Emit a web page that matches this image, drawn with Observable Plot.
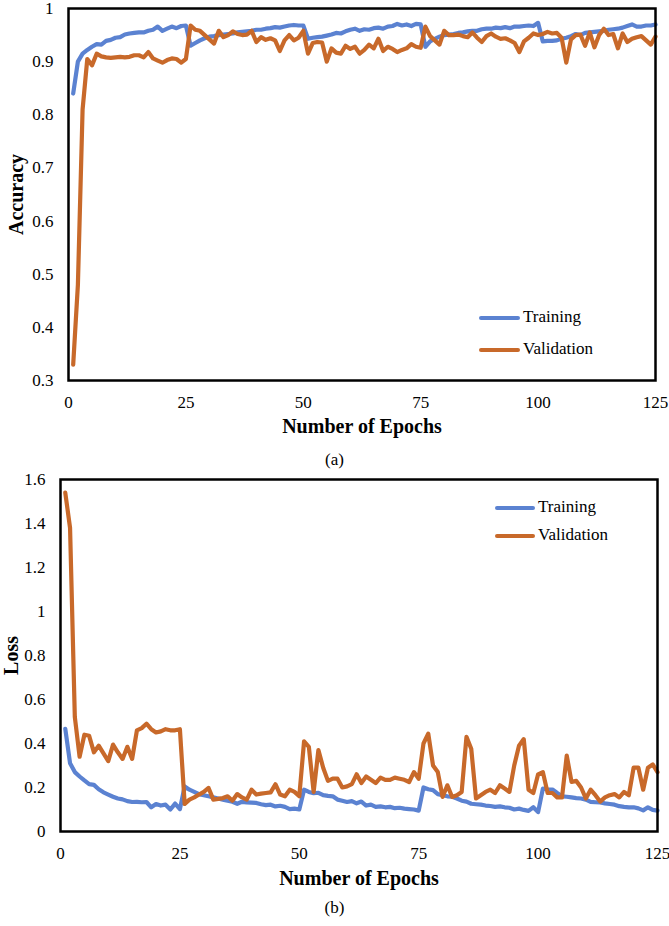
<!DOCTYPE html>
<html>
<head>
<meta charset="utf-8">
<script src="https://cdn.jsdelivr.net/npm/d3@7"></script>
<script src="https://cdn.jsdelivr.net/npm/@observablehq/plot@0.6"></script>
<style>
  html, body { margin: 0; padding: 0; background: #fff; }
  #wrap { position: relative; width: 669px; height: 926px; font-family: "Liberation Serif", "Times New Roman", serif; color: #000; overflow: hidden; }
  #wrap svg, #wrap svg text { font-family: "Liberation Serif", "Times New Roman", serif !important; }
  .cap { position: absolute; left: 0; width: 669px; text-align: center; font-size: 17px; line-height: 20px; }
  .leg { position: absolute; font-size: 17px; line-height: 20px; white-space: nowrap; }
  .legline { position: absolute; height: 4px; border-radius: 2px; }
</style>
</head>
<body>
<div id="wrap"></div>
<script>
// ---- data ----
const xTicks = [0, 25, 50, 75, 100, 125];
const accTicks = [0.3, 0.4, 0.5, 0.6, 0.7, 0.8, 0.9, 1];
const lossTicks = [0, 0.2, 0.4, 0.6, 0.8, 1, 1.2, 1.4, 1.6];
const seriesNames = ["Training", "Validation"];
const seriesColors = ["#5b82d1", "#c8692a"];

const trainAcc = [
  0.84, 0.90, 0.915, 0.922, 0.928, 0.933, 0.932, 0.939, 0.941, 0.945,
  0.946, 0.951, 0.953, 0.954, 0.955, 0.955, 0.958, 0.960, 0.966, 0.958,
  0.962, 0.966, 0.963, 0.967, 0.968, 0.930, 0.935, 0.940, 0.944, 0.947,
  0.948, 0.950, 0.951, 0.952, 0.953, 0.955, 0.956, 0.957, 0.958, 0.960,
  0.960, 0.962, 0.963, 0.965, 0.964, 0.966, 0.968, 0.969, 0.968, 0.968,
  0.943, 0.945, 0.946, 0.947, 0.949, 0.951, 0.954, 0.953, 0.957, 0.960,
  0.962, 0.958, 0.961, 0.960, 0.963, 0.964, 0.962, 0.966, 0.967, 0.971,
  0.968, 0.970, 0.967, 0.971, 0.970, 0.928, 0.938, 0.943, 0.947, 0.950,
  0.951, 0.952, 0.954, 0.955, 0.957, 0.958, 0.958, 0.961, 0.962, 0.962,
  0.964, 0.963, 0.965, 0.963, 0.966, 0.966, 0.967, 0.968, 0.967, 0.973,
  0.938, 0.939, 0.939, 0.940, 0.943, 0.945, 0.948, 0.952, 0.950, 0.954,
  0.955, 0.956, 0.957, 0.958, 0.960, 0.961, 0.962, 0.964, 0.967, 0.970,
  0.966, 0.966, 0.968, 0.968, 0.970
];
const valAcc = [
  0.33, 0.48, 0.81, 0.905, 0.893, 0.915, 0.910, 0.908, 0.907, 0.908,
  0.909, 0.908, 0.909, 0.912, 0.912, 0.908, 0.918, 0.906, 0.902, 0.898,
  0.903, 0.906, 0.905, 0.898, 0.905, 0.968, 0.960, 0.958, 0.950, 0.942,
  0.934, 0.958, 0.946, 0.950, 0.957, 0.952, 0.950, 0.951, 0.958, 0.937,
  0.946, 0.941, 0.944, 0.940, 0.920, 0.940, 0.950, 0.940, 0.945, 0.958,
  0.915, 0.935, 0.937, 0.936, 0.900, 0.925, 0.917, 0.915, 0.930, 0.924,
  0.928, 0.915, 0.922, 0.932, 0.925, 0.943, 0.920, 0.928, 0.924, 0.918,
  0.922, 0.925, 0.933, 0.928, 0.926, 0.966, 0.948, 0.940, 0.932, 0.958,
  0.950, 0.950, 0.951, 0.948, 0.946, 0.955, 0.945, 0.937, 0.948, 0.953,
  0.947, 0.943, 0.944, 0.940, 0.935, 0.918, 0.938, 0.945, 0.953, 0.950,
  0.952, 0.956, 0.953, 0.954, 0.945, 0.898, 0.942, 0.950, 0.951, 0.930,
  0.955, 0.927, 0.950, 0.962, 0.950, 0.952, 0.925, 0.953, 0.937, 0.943,
  0.946, 0.948, 0.940, 0.932, 0.947
];
const trainLoss = [
  0.467, 0.310, 0.270, 0.250, 0.232, 0.215, 0.212, 0.192, 0.178, 0.168,
  0.158, 0.150, 0.146, 0.138, 0.134, 0.135, 0.133, 0.134, 0.110, 0.125,
  0.118, 0.122, 0.100, 0.127, 0.102, 0.205, 0.190, 0.180, 0.170, 0.165,
  0.160, 0.155, 0.150, 0.145, 0.140, 0.135, 0.126, 0.135, 0.132, 0.131,
  0.130, 0.124, 0.120, 0.122, 0.114, 0.117, 0.112, 0.102, 0.104, 0.100,
  0.190, 0.180, 0.174, 0.176, 0.165, 0.162, 0.160, 0.145, 0.140, 0.134,
  0.138, 0.128, 0.136, 0.118, 0.122, 0.112, 0.114, 0.110, 0.112, 0.106,
  0.108, 0.104, 0.102, 0.100, 0.095, 0.200, 0.192, 0.188, 0.170, 0.165,
  0.160, 0.158, 0.150, 0.140, 0.136, 0.126, 0.124, 0.122, 0.118, 0.116,
  0.112, 0.114, 0.110, 0.108, 0.100, 0.104, 0.098, 0.094, 0.110, 0.088,
  0.195, 0.192, 0.191, 0.175, 0.160, 0.158, 0.155, 0.152, 0.150, 0.145,
  0.135, 0.133, 0.132, 0.128, 0.125, 0.122, 0.115, 0.112, 0.110, 0.110,
  0.105, 0.096, 0.110, 0.098, 0.095
];
const valLoss = [
  1.54, 1.38, 0.52, 0.34, 0.44, 0.435, 0.36, 0.39, 0.355, 0.32,
  0.395, 0.36, 0.33, 0.385, 0.33, 0.46, 0.47, 0.49, 0.465, 0.45,
  0.455, 0.465, 0.46, 0.46, 0.465, 0.125, 0.145, 0.155, 0.168, 0.18,
  0.198, 0.145, 0.148, 0.152, 0.16, 0.14, 0.17, 0.155, 0.145, 0.19,
  0.168, 0.172, 0.175, 0.178, 0.215, 0.168, 0.16, 0.19, 0.18, 0.16,
  0.41, 0.385, 0.18, 0.37, 0.29, 0.23, 0.24, 0.24, 0.20, 0.205,
  0.215, 0.26, 0.22, 0.25, 0.235, 0.22, 0.245, 0.235, 0.235, 0.245,
  0.24, 0.235, 0.225, 0.27, 0.24, 0.40, 0.445, 0.30, 0.27, 0.157,
  0.21, 0.157, 0.165, 0.18, 0.43, 0.376, 0.15, 0.165, 0.18, 0.19,
  0.175, 0.21, 0.195, 0.18, 0.30, 0.39, 0.42, 0.19, 0.175, 0.26,
  0.27, 0.175, 0.175, 0.155, 0.155, 0.345, 0.225, 0.23, 0.20, 0.15,
  0.19, 0.165, 0.136, 0.155, 0.165, 0.17, 0.155, 0.18, 0.165, 0.29,
  0.29, 0.19, 0.29, 0.305, 0.27
];

// ---- helpers ----
const fmt = d => String(+(+d).toFixed(1));
const wrap = document.getElementById("wrap");
const FONT = '"Liberation Serif", "Times New Roman", serif';

function makeChart({train, val, yDomain, yTicks, yLabel, width, height, mt, mb, ml, mr, titleDy, ylabDx}) {
  return Plot.plot({
    width, height,
    marginTop: mt, marginBottom: mb, marginLeft: ml, marginRight: mr,
    style: {fontFamily: FONT, fontSize: "17px", color: "#000", background: "transparent", overflow: "visible"},
    x: {domain: [0, 125], ticks: xTicks, tickSize: 0, tickPadding: 15, tickFormat: d => String(d), label: null},
    y: {domain: yDomain, ticks: yTicks, tickSize: 0, tickPadding: 15, tickFormat: fmt, label: null},
    marks: [
      Plot.line(train, {x: (d, i) => i + 1, y: d => d, stroke: seriesColors[0], strokeWidth: 4.2, strokeLinejoin: "round", strokeLinecap: "round"}),
      Plot.line(val, {x: (d, i) => i + 1, y: d => d, stroke: seriesColors[1], strokeWidth: 4.2, strokeLinejoin: "round", strokeLinecap: "round"}),
      Plot.frame({stroke: "#000", strokeWidth: 2.5}),
      Plot.text(["Number of Epochs"], {frameAnchor: "bottom", dy: titleDy, lineAnchor: "middle", fontWeight: "bold", fontSize: 20, fill: "#000"}),
      Plot.text([yLabel], {frameAnchor: "left", dx: ylabDx, rotate: -90, lineAnchor: "middle", textAnchor: "middle", fontWeight: "bold", fontSize: 20, fill: "#000"})
    ]
  });
}

// ---- chart (a) ----
const svgA = makeChart({train: trainAcc, val: valAcc, yDomain: [0.3, 1], yTicks: accTicks, yLabel: "Accuracy",
  width: 669, height: 445, mt: 8, mb: 65, ml: 68, mr: 14, titleDy: 46, ylabDx: -52});
svgA.style.position = "absolute"; svgA.style.left = "0px"; svgA.style.top = "0px";
wrap.appendChild(svgA);

// ---- chart (b) ----
const svgB = makeChart({train: trainLoss, val: valLoss, yDomain: [0, 1.6], yTicks: lossTicks, yLabel: "Loss",
  width: 669, height: 420, mt: 9, mb: 59, ml: 60, mr: 12, titleDy: 47, ylabDx: -49});
svgB.style.position = "absolute"; svgB.style.left = "0px"; svgB.style.top = "470px";
wrap.appendChild(svgB);

// ---- captions ----
function cap(text, top) {
  const d = document.createElement("div");
  d.className = "cap"; d.style.top = top + "px"; d.textContent = text;
  wrap.appendChild(d);
}
cap("(a)", 450);
cap("(b)", 898);

// ---- legends ----
function legend(x0, x1, ys) {
  seriesNames.forEach((name, i) => {
    const l = document.createElement("div");
    l.className = "legline";
    l.style.left = x0 + "px"; l.style.width = (x1 - x0) + "px";
    l.style.top = (ys[i] - 2) + "px"; l.style.background = seriesColors[i];
    wrap.appendChild(l);
    const t = document.createElement("div");
    t.className = "leg";
    t.style.left = (x1 + 3) + "px"; t.style.top = (ys[i] - 11) + "px";
    t.textContent = name;
    wrap.appendChild(t);
  });
}
legend(479, 520, [318, 350]);
legend(495, 535, [508, 536]);
</script>
</body>
</html>
